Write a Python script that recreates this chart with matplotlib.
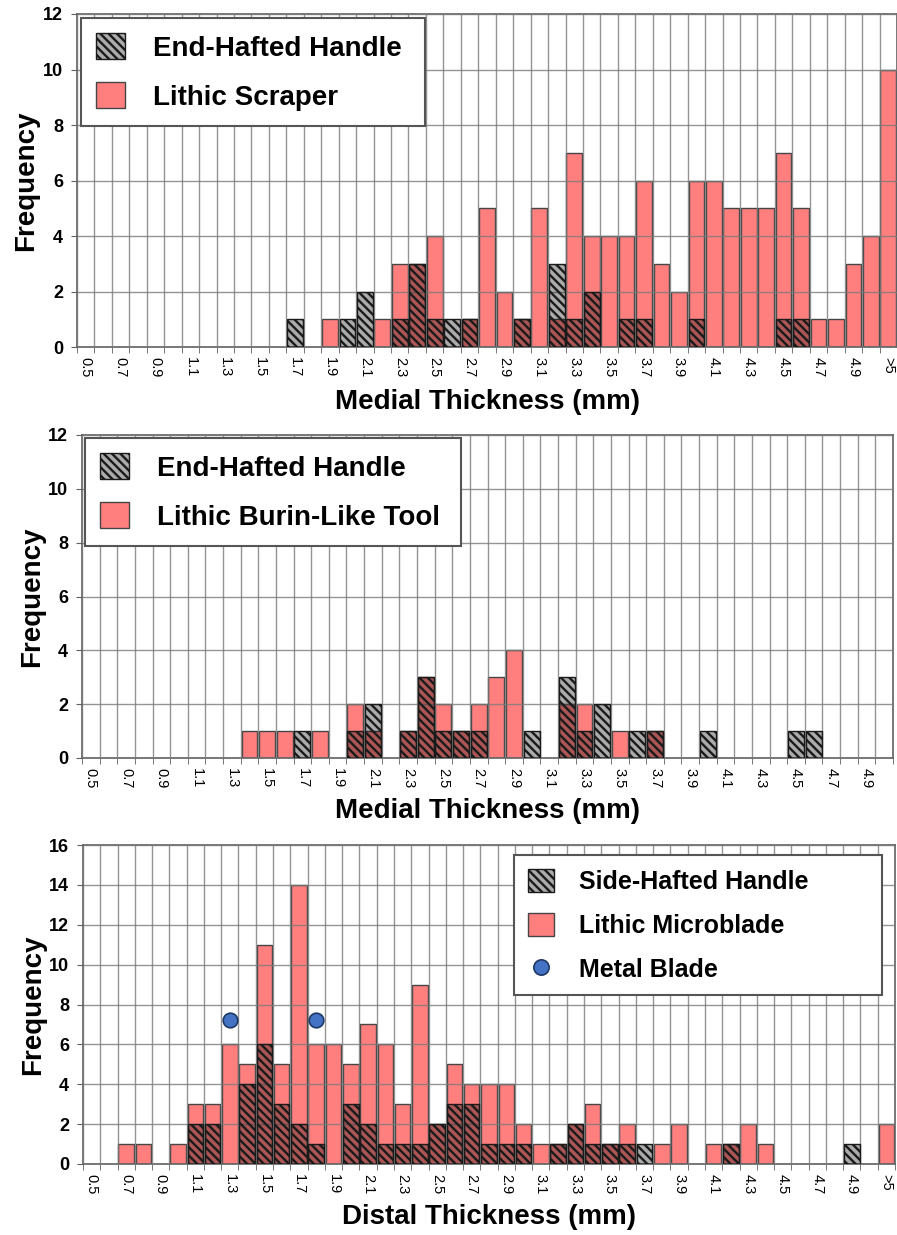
import numpy as np
import matplotlib
matplotlib.use("Agg")
import matplotlib.pyplot as plt
from matplotlib.patches import Patch
from matplotlib.lines import Line2D

# Arial-like font
plt.rcParams["font.family"] = ["Liberation Sans", "DejaVu Sans"]
plt.rcParams["hatch.linewidth"] = 1.7

# thickness bins (0.1 mm)
cats_top = ['0.5', '0.6', '0.7', '0.8', '0.9', '1.0', '1.1', '1.2', '1.3', '1.4',
            '1.5', '1.6', '1.7', '1.8', '1.9', '2.0', '2.1', '2.2', '2.3', '2.4',
            '2.5', '2.6', '2.7', '2.8', '2.9', '3.0', '3.1', '3.2', '3.3', '3.4',
            '3.5', '3.6', '3.7', '3.8', '3.9', '4.0', '4.1', '4.2', '4.3', '4.4',
            '4.5', '4.6', '4.7', '4.8', '4.9', '5.0', '>5']
cats_mid = cats_top[:46]
cats_bot = cats_top

# panel 1: medial thickness, scrapers vs end-hafted handles
scraper = [0, 0, 0, 0, 0, 0, 0, 0, 0, 0,
           0, 0, 0, 0, 1, 0, 0, 1, 3, 3,
           4, 0, 1, 5, 2, 1, 5, 1, 7, 4,
           4, 4, 6, 3, 2, 6, 6, 5, 5, 5,
           7, 5, 1, 1, 3, 4, 10]
end_handle = [0, 0, 0, 0, 0, 0, 0, 0, 0, 0,
              0, 0, 1, 0, 0, 1, 2, 0, 1, 3,
              1, 1, 1, 0, 0, 1, 0, 3, 1, 2,
              0, 1, 1, 0, 0, 1, 0, 0, 0, 0,
              1, 1, 0, 0, 0, 0, 0]

# panel 2: medial thickness, burin-like tools vs end-hafted handles
burin = [0, 0, 0, 0, 0, 0, 0, 0, 0, 1,
         1, 1, 0, 1, 0, 2, 1, 0, 1, 3,
         2, 1, 2, 3, 4, 0, 0, 2, 2, 0,
         1, 0, 1, 0, 0, 0, 0, 0, 0, 0,
         0, 0, 0, 0, 0, 0]
end_handle_mid = end_handle[:46]

# panel 3: distal thickness, microblades vs side-hafted handles
microblade = [0, 0, 1, 1, 0, 1, 3, 3, 6, 5,
              11, 5, 14, 6, 6, 5, 7, 6, 3, 9,
              2, 5, 4, 4, 4, 2, 1, 1, 2, 3,
              1, 2, 0, 1, 2, 0, 1, 1, 2, 1,
              0, 0, 0, 0, 0, 0, 2]
side_handle = [0, 0, 0, 0, 0, 0, 2, 2, 0, 4,
               6, 3, 2, 1, 0, 3, 2, 1, 1, 1,
               2, 3, 3, 1, 1, 1, 0, 1, 2, 1,
               1, 1, 1, 0, 0, 0, 0, 1, 0, 0,
               0, 0, 0, 0, 1, 0, 0]
metal_bins = ['1.3', '1.8']
metal_freq = [7.2, 7.2]

PINK = '#FF7F7F'
HATCH_FACE = (0, 0, 0, 0.33)
GRID = '#7a7a7a'


def draw_panel(ax, cats, lithic, handle, ymax, xlabel):
    n = len(cats)
    x = np.arange(n) + 0.5
    lithic = np.array(lithic)
    handle = np.array(handle)
    m1 = lithic > 0
    m2 = handle > 0
    ax.bar(x[m1], lithic[m1], width=0.9, color=PINK, edgecolor='#454545',
           linewidth=1, zorder=2)
    ax.bar(x[m2], handle[m2], width=0.9, facecolor=HATCH_FACE, edgecolor='#1a1a1a',
           hatch='\\\\\\\\', linewidth=1, zorder=3)

    ax.set_xlim(0, n)
    ax.set_ylim(0, ymax)
    ax.set_xticks(np.arange(n + 1), minor=True)
    ax.set_xticks(x[::2])
    ax.set_xticklabels(cats[::2], rotation=-90, fontsize=10.5)
    ax.set_yticks(np.arange(0, ymax + 1, 2))
    ax.set_yticklabels([str(v) for v in range(0, ymax + 1, 2)],
                       fontsize=13, fontweight='bold')
    ax.tick_params(axis='x', which='major', length=0, pad=7)
    ax.tick_params(axis='x', which='minor', length=4, color='#606060', direction='out')
    ax.tick_params(axis='y', length=4, color='#606060', pad=6)

    ax.set_axisbelow(False)
    ax.grid(which='minor', axis='x', color=GRID, linewidth=1, alpha=0.8)
    ax.grid(which='major', axis='y', color=GRID, linewidth=1, alpha=0.8)
    ax.grid(which='major', axis='x', visible=False)
    for s in ax.spines.values():
        s.set_color('#606060')
        s.set_linewidth(1.2)

    ax.set_ylabel('Frequency', fontsize=20, fontweight='bold')
    ax.yaxis.label.set_verticalalignment('center')
    ax.yaxis.set_label_coords(-0.062, 0.5)
    ax.set_xlabel(xlabel, fontsize=20, fontweight='bold')
    ax.xaxis.label.set_verticalalignment('center')
    ax.xaxis.set_label_coords(0.5, -0.165)


fig = plt.figure(figsize=(8.97, 12.35), dpi=100)
W, H = 897.0, 1235.0


def add_axes(l, t, r, b):
    return fig.add_axes([l / W, 1 - b / H, (r - l) / W, (b - t) / H])


ax1 = add_axes(77, 14, 897, 347)
ax2 = add_axes(82, 435, 893, 758)
ax3 = add_axes(83, 845, 895, 1164)

draw_panel(ax1, cats_top, scraper, end_handle, 12, 'Medial Thickness (mm)')
draw_panel(ax2, cats_mid, burin, end_handle_mid, 12, 'Medial Thickness (mm)')
draw_panel(ax3, cats_bot, microblade, side_handle, 16, 'Distal Thickness (mm)')

# metal blades as dots
mx = [cats_bot.index(c) + 0.5 for c in metal_bins]
ax3.plot(mx, metal_freq, 'o', color='#4472C4', markeredgecolor='#1F3864',
         markersize=10.5, markeredgewidth=1.2, zorder=4)


def hatch_handle():
    return Patch(facecolor=HATCH_FACE, edgecolor='#1a1a1a', hatch='\\\\\\\\', linewidth=1)


def pink_handle():
    return Patch(facecolor=PINK, edgecolor='#454545', linewidth=1)


def make_legend(ax, handles, labels, bbox, fs):
    leg = ax.legend(handles, labels, loc='upper left', bbox_to_anchor=bbox, mode='expand',
                    prop={'weight': 'bold', 'size': fs},
                    frameon=True, fancybox=False, framealpha=1,
                    handlelength=1.05, handleheight=1.05, handletextpad=1.0,
                    labelspacing=0.75, borderpad=0.55, borderaxespad=0)
    leg.get_frame().set_edgecolor('#555555')
    leg.get_frame().set_linewidth(1.5)
    leg.set_zorder(10)
    return leg


# legend boxes in axes coordinates
make_legend(ax1, [hatch_handle(), pink_handle()], ['End-Hafted Handle', 'Lithic Scraper'],
            (4 / 820, 0, 344 / 820, (347 - 18) / 333), 20)
make_legend(ax2, [hatch_handle(), pink_handle()], ['End-Hafted Handle', 'Lithic Burin-Like Tool'],
            (3 / 811, 0, 376 / 811, (758 - 438) / 323), 20)
dot = Line2D([], [], marker='o', linestyle='none', color='#4472C4',
             markeredgecolor='#1F3864', markersize=11, markeredgewidth=1.2)
make_legend(ax3, [hatch_handle(), pink_handle(), dot],
            ['Side-Hafted Handle', 'Lithic Microblade', 'Metal Blade'],
            ((514 - 83) / 812, 0, 368 / 812, (1164 - 855) / 319), 18)

fig.savefig('out.png', dpi=100)
